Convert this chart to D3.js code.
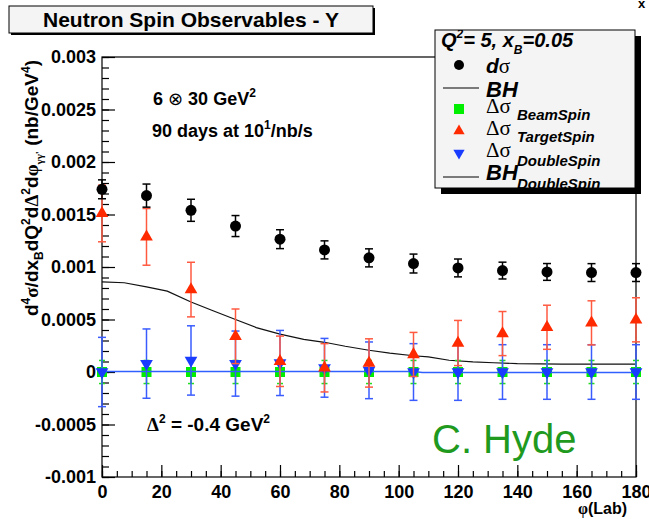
<!DOCTYPE html>
<html>
<head>
<meta charset="utf-8">
<script src="https://cdn.jsdelivr.net/npm/d3@7"></script>
<style>
  body { margin: 0; background: #fff; }
  text { font-family: "Liberation Sans", Arial, sans-serif; }
</style>
</head>
<body>
<div id="chart"></div>
<script>
// phi bins (deg)
const phi = [0, 15, 30, 45, 60, 75, 90, 105, 120, 135, 150, 165, 180];
// values in units of 1e-3 nb/GeV^4
const dSigma = [1.74, 1.68, 1.54, 1.39, 1.265, 1.163, 1.087, 1.033, 0.991, 0.966, 0.953, 0.947, 0.947];
const dSigmaErr = [0.09, 0.11, 0.105, 0.1, 0.09, 0.086, 0.086, 0.09, 0.085, 0.08, 0.08, 0.085, 0.085];
const beamSpin = [0, 0, 0, 0, 0, 0, 0, 0, 0, 0, 0, 0, 0];
const beamSpinErr = [0.11, 0.11, 0.11, 0.11, 0.11, 0.11, 0.11, 0.11, 0.11, 0.11, 0.11, 0.11, 0.11];
const targetSpin = [1.51, 1.287, 0.785, 0.34, 0.102, 0.04, 0.086, 0.167, 0.276, 0.366, 0.426, 0.468, 0.497];
const targetSpinErr = [0.27, 0.27, 0.26, 0.26, 0.24, 0.23, 0.23, 0.21, 0.215, 0.21, 0.21, 0.21, 0.21];
const doubleSpin = [0.0, 0.08, 0.11, 0.08, 0.086, 0.04, 0.016, 0, 0, 0, 0, 0, 0];
const doubleSpinErr = [0.33, 0.33, 0.33, 0.31, 0.31, 0.28, 0.27, 0.27, 0.27, 0.26, 0.26, 0.26, 0.26];

// BH curve
const bhPhi = [0, 7.5, 15, 22, 30, 37, 45, 52, 60, 68, 75, 82, 90, 97, 105, 110, 117, 125, 132, 140, 155, 170, 180];
const bhVal = [0.858, 0.85, 0.81, 0.77, 0.667, 0.588, 0.5, 0.423, 0.36, 0.31, 0.283, 0.245, 0.207, 0.18, 0.155, 0.144, 0.112, 0.096, 0.088, 0.08, 0.075, 0.075, 0.075];
// BH double spin curve
const bhdsPhi = [0, 105, 108, 180];
const bhdsVal = [0.005, 0.005, -0.005, -0.005];

const yTicks = [0.003, 0.0025, 0.002, 0.0015, 0.001, 0.0005, 0, -0.0005, -0.001];
const yTickLabels = ["0.003", "0.0025", "0.002", "0.0015", "0.001", "0.0005", "0", "-0.0005", "-0.001"];
const xTicks = [0, 20, 40, 60, 80, 100, 120, 140, 160, 180];

const width = 649;
const height = 519;
const margin = { top: 57, right: 13, bottom: 42, left: 102 };

const svg = d3.select("#chart")
    .append("svg")
    .attr("width", width)
    .attr("height", height);

const x = d3.scaleLinear()
    .domain([0, 180])
    .range([margin.left, width - margin.right]);

const y = d3.scaleLinear()
    .domain([-0.001, 0.003])
    .range([height - margin.bottom, margin.top]);

const s = v => v * 1e-3;

// frame
svg.append("rect")
    .attr("x", x(0)).attr("y", y(0.003))
    .attr("width", x(180) - x(0)).attr("height", y(-0.001) - y(0.003))
    .attr("fill", "#fff").attr("stroke", "#000").attr("stroke-width", 1.2);

// y axis
const yMinor = d3.range(-10, 31).map(i => i * 1e-4);
svg.append("g")
    .attr("transform", `translate(${x(0)},0)`)
    .call(d3.axisLeft(y).tickValues(yMinor).tickSize(-7).tickFormat(""))
    .call(g => g.select(".domain").remove());
svg.append("g")
    .attr("transform", `translate(${x(0)},0)`)
    .call(d3.axisLeft(y).tickValues(yTicks).tickSizeInner(-13).tickSizeOuter(0).tickPadding(6)
        .tickFormat((d, i) => yTickLabels[i]))
    .call(g => g.select(".domain").remove())
    .call(g => g.selectAll("text").attr("font-size", 18).attr("font-weight", "bold")
        .attr("font-family", "Liberation Sans, Arial, sans-serif").attr("fill", "#000"));

// x axis
svg.append("g")
    .attr("transform", `translate(0,${y(-0.001)})`)
    .call(d3.axisBottom(x).tickValues(d3.range(0, 181, 5)).tickSize(-6).tickFormat(""))
    .call(g => g.select(".domain").remove());
svg.append("g")
    .attr("transform", `translate(0,${y(-0.001)})`)
    .call(d3.axisBottom(x).tickValues(xTicks).tickSizeInner(-12).tickSizeOuter(0).tickPadding(8))
    .call(g => g.select(".domain").remove())
    .call(g => g.selectAll("text").attr("font-size", 18).attr("font-weight", "bold")
        .attr("font-family", "Liberation Sans, Arial, sans-serif").attr("fill", "#000"));

svg.selectAll(".tick line").attr("stroke", "#000").attr("stroke-width", 1.2);

// axis titles
svg.append("text")
    .attr("x", 627).attr("y", 514)
    .attr("text-anchor", "end")
    .attr("font-size", 16).attr("font-weight", "bold")
    .html('<tspan font-family="Liberation Serif, serif">φ</tspan>(Lab)');

const yt = svg.append("text")
    .attr("transform", `translate(38,60) rotate(-90)`)
    .attr("text-anchor", "end")
    .attr("font-size", 19).attr("font-weight", "bold");
yt.append("tspan").text("d");
yt.append("tspan").attr("font-size", 12).attr("dy", -8).text("4");
yt.append("tspan").attr("dy", 8).attr("font-family", "Liberation Serif, serif").text("σ");
yt.append("tspan").text("/dx");
yt.append("tspan").attr("font-size", 12).attr("dy", 5).text("B");
yt.append("tspan").attr("dy", -5).text("dQ");
yt.append("tspan").attr("font-size", 12).attr("dy", -8).text("2");
yt.append("tspan").attr("dy", 8).text("d");
yt.append("tspan").attr("font-family", "Liberation Serif, serif").text("Δ");
yt.append("tspan").attr("font-size", 12).attr("dy", -8).text("2");
yt.append("tspan").attr("dy", 8).text("d");
yt.append("tspan").attr("font-family", "Liberation Serif, serif").text("φ");
yt.append("tspan").attr("font-size", 11).attr("dy", 5).attr("font-family", "Liberation Serif, serif").text("γγ'");
yt.append("tspan").attr("dy", -5).text("  (nb/GeV");
yt.append("tspan").attr("font-size", 12).attr("dy", -8).text("4");
yt.append("tspan").attr("dy", 8).text(")");

// curves
const line = d3.line().x(d => x(d[0])).y(d => y(s(d[1])));
svg.append("path")
    .attr("d", line(d3.zip(bhPhi, bhVal)))
    .attr("fill", "none").attr("stroke", "#111").attr("stroke-width", 1.2);

// error bars helper
function errorBars(vals, errs, color, cap) {
    const g = svg.append("g").attr("stroke", color).attr("stroke-width", 1.5);
    const data = d3.zip(phi, vals, errs);
    g.selectAll("line.v").data(data).join("line")
        .attr("x1", d => x(d[0])).attr("x2", d => x(d[0]))
        .attr("y1", d => y(s(d[1] + d[2]))).attr("y2", d => y(s(d[1] - d[2])));
    g.selectAll("line.t").data(data).join("line")
        .attr("x1", d => x(d[0]) - cap).attr("x2", d => x(d[0]) + cap)
        .attr("y1", d => y(s(d[1] + d[2]))).attr("y2", d => y(s(d[1] + d[2])));
    g.selectAll("line.b").data(data).join("line")
        .attr("x1", d => x(d[0]) - cap).attr("x2", d => x(d[0]) + cap)
        .attr("y1", d => y(s(d[1] - d[2]))).attr("y2", d => y(s(d[1] - d[2])));
    return data;
}

// beam spin (green squares)
const beamData = errorBars(beamSpin, beamSpinErr, "#22dd22", 3);
svg.append("g").selectAll("rect").data(beamData).join("rect")
    .attr("x", d => x(d[0]) - 5).attr("y", d => y(s(d[1])) - 5)
    .attr("width", 10).attr("height", 10).attr("fill", "#00ee00");

// BH double spin line
svg.append("path")
    .attr("d", line(d3.zip(bhdsPhi, bhdsVal)))
    .attr("fill", "none").attr("stroke", "#3060ff").attr("stroke-width", 1.5);

// double spin (blue down triangles)
const dblData = errorBars(doubleSpin, doubleSpinErr, "#3a5cff", 4);
const triDown = d3.symbol().type(d3.symbolTriangle).size(70);
svg.append("g").selectAll("path").data(dblData).join("path")
    .attr("d", triDown)
    .attr("transform", d => `translate(${x(d[0])},${y(s(d[1]))}) rotate(180)`)
    .attr("fill", "#1a3cff");

// target spin (red triangles)
const tgtData = errorBars(targetSpin, targetSpinErr, "#ff5a40", 4);
svg.append("g").selectAll("path").data(tgtData).join("path")
    .attr("d", d3.symbol().type(d3.symbolTriangle).size(70))
    .attr("transform", d => `translate(${x(d[0])},${y(s(d[1]))})`)
    .attr("fill", "#ff2a00");

// d sigma (black dots)
const dsData = errorBars(dSigma, dSigmaErr, "#000", 4);
svg.append("g").selectAll("circle").data(dsData).join("circle")
    .attr("cx", d => x(d[0])).attr("cy", d => y(s(d[1])))
    .attr("r", 5.5).attr("fill", "#000");

// annotations
const t1 = svg.append("text").attr("x", 153).attr("y", 105)
    .attr("font-size", 18).attr("font-weight", "bold");
t1.append("tspan").text("6 ");
t1.append("tspan").attr("font-family", "DejaVu Sans, sans-serif").attr("font-weight", "normal").text("⊗");
t1.append("tspan").text(" 30 GeV");
t1.append("tspan").attr("font-size", 12).attr("dy", -8).text("2");

const t2 = svg.append("text").attr("x", 152).attr("y", 137)
    .attr("font-size", 18).attr("font-weight", "bold");
t2.append("tspan").text("90 days at 10");
t2.append("tspan").attr("font-size", 12).attr("dy", -8).text("1");
t2.append("tspan").attr("dy", 8).text("/nb/s");

const t3 = svg.append("text").attr("x", 147).attr("y", 431)
    .attr("font-size", 19).attr("font-weight", "bold");
t3.append("tspan").attr("font-family", "Liberation Serif, serif").text("Δ");
t3.append("tspan").attr("font-size", 12).attr("dy", -8).text("2");
t3.append("tspan").attr("dy", 8).text(" = -0.4 GeV");
t3.append("tspan").attr("font-size", 12).attr("dy", -8).text("2");

svg.append("text").attr("x", 432).attr("y", 453)
    .attr("font-family", "DejaVu Sans, sans-serif")
    .attr("font-size", 40).attr("fill", "#1f9a1f")
    .text("C. Hyde");

// title box
svg.append("rect").attr("x", 11).attr("y", 8).attr("width", 364).attr("height", 27).attr("fill", "#000");
svg.append("rect").attr("x", 9).attr("y", 6).attr("width", 364).attr("height", 27)
    .attr("fill", "#f4f4f4").attr("stroke", "#000").attr("stroke-width", 1);
svg.append("text").attr("x", 191).attr("y", 27)
    .attr("text-anchor", "middle").attr("font-size", 21).attr("font-weight", "bold")
    .text("Neutron Spin Observables - Y");

svg.append("text").attr("x", 638).attr("y", 8).attr("font-size", 13).attr("font-weight", "bold").text("x");

// legend
const lg = { x: 435, y: 30, w: 200, h: 158 };
svg.append("rect").attr("x", lg.x + 6).attr("y", lg.y + 6).attr("width", lg.w).attr("height", lg.h).attr("fill", "#000");
svg.append("rect").attr("x", lg.x).attr("y", lg.y).attr("width", lg.w).attr("height", lg.h)
    .attr("fill", "#f4f4f4").attr("stroke", "#000").attr("stroke-width", 1);
svg.append("clipPath").attr("id", "lgclip").append("rect")
    .attr("x", lg.x).attr("y", lg.y).attr("width", lg.w).attr("height", lg.h);
const L = svg.append("g").attr("clip-path", "url(#lgclip)")
    .attr("font-weight", "bold").attr("font-style", "italic");

const q = L.append("text").attr("x", 441).attr("y", 47).attr("font-size", 20);
q.append("tspan").text("Q");
q.append("tspan").attr("font-size", 12).attr("dy", -9).text("2");
q.append("tspan").attr("dy", 9).text("=  5, x");
q.append("tspan").attr("font-size", 12).attr("dy", 7).text("B");
q.append("tspan").attr("dy", -7).text("=0.05");

L.append("circle").attr("cx", 459).attr("cy", 65).attr("r", 5).attr("fill", "#000");
const ld = L.append("text").attr("x", 486).attr("y", 73).attr("font-size", 21);
ld.append("tspan").text("d");
ld.append("tspan").attr("font-family", "Liberation Serif, serif").attr("font-style", "normal").attr("font-weight", "normal").text("σ");

L.append("line").attr("x1", 443).attr("x2", 479).attr("y1", 88).attr("y2", 88).attr("stroke", "#000").attr("stroke-width", 1);
L.append("text").attr("x", 486).attr("y", 97).attr("font-size", 22).text("BH");

const legItems = [
    { label: "BeamSpin", base: 113, sub: 120 },
    { label: "TargetSpin", base: 135, sub: 142 },
    { label: "DoubleSpin", base: 157, sub: 166 }
];
L.append("rect").attr("x", 454).attr("y", 104).attr("width", 10).attr("height", 10).attr("fill", "#00ee00");
L.append("path").attr("d", d3.symbol().type(d3.symbolTriangle).size(55)).attr("transform", "translate(459,131)").attr("fill", "#ff2a00");
L.append("path").attr("d", d3.symbol().type(d3.symbolTriangle).size(55)).attr("transform", "translate(459,153) rotate(180)").attr("fill", "#1a3cff");
legItems.forEach(it => {
    const t = L.append("text").attr("x", 486).attr("y", it.base).attr("font-size", 21);
    t.append("tspan").attr("font-family", "Liberation Serif, serif").attr("font-style", "normal").attr("font-weight", "normal").text("Δσ");
    L.append("text").attr("x", 517).attr("y", it.sub).attr("font-size", 15).text(it.label);
});

L.append("line").attr("x1", 443).attr("x2", 479).attr("y1", 177).attr("y2", 177).attr("stroke", "#000").attr("stroke-width", 1);
L.append("text").attr("x", 486).attr("y", 180).attr("font-size", 22).text("BH");
L.append("text").attr("x", 517).attr("y", 189).attr("font-size", 15).text("DoubleSpin");
</script>
</body>
</html>
